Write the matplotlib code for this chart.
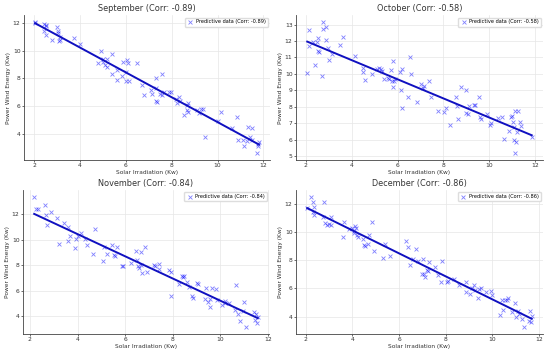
import numpy as np
import matplotlib
matplotlib.use('Agg')
import matplotlib.pyplot as plt


# September
sep_x = [2.05, 2.05, 2.45, 2.5, 2.5, 2.45, 2.5, 2.8, 3.0, 3.05, 3.05, 3.1, 3.15, 3.15, 3.75, 4.0,
         4.8, 4.9, 5.0, 5.1, 5.2, 5.2, 5.0, 5.4, 5.4, 5.6, 5.6, 5.85, 5.9, 6.0, 6.0, 6.05, 6.1, 6.15,
         6.5, 6.7, 6.8, 7.1, 7.15, 7.3, 7.3, 7.3, 7.35, 7.5, 7.6, 7.6, 7.65, 7.9, 7.95, 8.2, 8.25,
         8.3, 8.35, 8.55, 8.65, 8.65, 8.7, 8.7, 9.1, 9.2, 9.3, 9.35, 9.45, 10.0, 10.15, 10.65, 10.85,
         10.9, 11.1, 11.15, 11.3, 11.35, 11.4, 11.5, 11.5, 11.7, 11.75, 11.75, 11.8]
sep_y = [12.1, 12.0, 11.9, 11.85, 11.8, 11.4, 11.1, 10.8, 11.7, 11.4, 11.3, 10.7, 10.8, 11.0, 10.9, 10.5,
         9.1, 10.0, 9.4, 9.0, 8.8, 9.4, 9.2, 9.8, 8.3, 8.6, 7.9, 8.2, 9.2, 8.5, 7.8, 9.3, 9.15, 7.8,
         9.1, 7.5, 6.8, 7.2, 6.9, 8.0, 7.3, 6.4, 6.3, 6.9, 8.3, 6.8, 7.0, 7.0, 7.0, 6.5, 6.2,
         6.7, 6.4, 5.4, 6.1, 5.7, 5.6, 6.2, 5.7, 5.5, 5.8, 5.8, 3.8, 4.9, 5.6, 4.4, 5.2,
         3.6, 3.6, 3.1, 3.5, 4.5, 3.8, 4.4, 3.6, 2.6, 3.3, 3.1, 3.4]

# October
oct_x = [2.06, 2.12, 2.12, 2.32, 2.42, 2.49, 2.52, 2.51, 2.58, 2.70, 2.73, 2.75, 2.86, 2.9, 2.97, 3.02,
         3.15, 3.5, 3.6, 4.16, 4.47, 4.47, 4.57, 4.9, 5.1, 5.19, 5.27, 5.3, 5.4, 5.58, 5.64, 5.73,
         5.76, 5.8, 5.78, 5.84, 5.9, 6.09, 6.17, 6.19, 6.18, 6.46, 6.53, 6.57, 6.86, 7.04, 7.11, 7.14,
         7.38, 7.44, 7.76, 8.02, 8.1, 8.3, 8.56, 8.61, 8.63, 8.75, 8.98, 8.99, 9.07, 9.11, 9.31, 9.39,
         9.55, 9.6, 9.65, 9.9, 10.05, 10.08, 10.37, 10.56, 10.66, 10.85, 10.93, 11.0, 11.04, 11.06,
         11.07, 11.1, 11.14, 11.17, 11.2, 11.27, 11.35, 11.39, 11.85]
oct_y = [10.04, 12.66, 11.67, 11.93, 10.52, 11.95, 12.2, 11.4, 11.36, 9.87, 13.18, 12.7, 12.05, 12.84, 11.6, 10.86,
         11.2, 11.77, 12.25, 11.06, 10.37, 10.11, 9.65, 9.99, 10.31, 10.37, 10.31, 10.15, 9.67, 9.75, 9.69, 10.23,
         9.55, 10.78, 9.19, 9.55, 9.71, 10.09, 9.03, 10.27, 7.94, 8.62, 11.04, 9.99, 8.3, 9.39, 9.13, 9.25,
         9.59, 8.58, 7.71, 7.65, 7.9, 6.86, 8.58, 8.02, 7.27, 9.23, 9.03, 7.61, 7.53, 8.02, 8.12, 8.12,
         8.58, 7.37, 7.25, 7.57, 6.9, 7.0, 7.31, 7.37, 6.01, 6.5, 7.37, 7.45, 7.09, 5.99,
         6.74, 7.71, 5.16, 5.86, 6.46, 7.71, 7.05, 6.8, 6.16]

# November
nov_x = [2.18, 2.25, 2.33, 2.64, 2.68, 2.7, 2.89, 3.13, 3.21, 3.42, 3.6, 3.62, 3.7, 3.88, 3.93, 4.04,
         4.16, 4.33, 4.39, 4.65, 4.75, 5.07, 5.1, 5.24, 5.44, 5.54, 5.58, 5.65, 5.86, 5.93, 6.24, 6.45,
         6.48, 6.53, 6.59, 6.65, 6.66, 6.7, 6.83, 6.92, 7.22, 7.24, 7.4, 7.44, 7.82, 7.91, 7.94, 8.37,
         8.44, 8.47, 8.26, 8.58, 8.68, 8.82, 8.85, 9.02, 9.07, 9.34, 9.38, 9.49, 9.56, 9.63, 9.56, 9.82,
         9.87, 10.08, 10.19, 10.35, 10.21, 10.65, 10.61, 10.74, 10.81, 10.95, 11.01, 11.09, 11.41,
         11.44, 11.51, 11.54, 11.57]
nov_y = [13.37, 12.36, 12.39, 12.7, 11.9, 11.17, 12.16, 11.69, 9.64, 11.3, 10.99, 9.9, 10.29, 9.31, 10.08, 10.26,
         10.55, 10.06, 9.56, 8.87, 10.83, 8.35, 9.41, 8.89, 9.56, 8.79, 8.71, 9.46, 7.96, 7.91, 8.19, 9.1,
         8.4, 7.91, 7.8, 9.02, 8.01, 7.39, 9.46, 7.44, 8.01, 7.91, 8.06, 7.67, 7.65, 7.44, 5.6, 7.16,
         7.1, 7.13, 6.56, 6.72, 6.27, 5.63, 5.47, 6.59, 6.53, 5.37, 6.25, 5.16, 5.37, 6.2, 4.77, 6.14,
         5.29, 4.9, 5.08, 5.03, 5.21, 6.46, 4.49, 4.18, 3.63, 4.46, 5.11, 3.14, 4.33,
         3.73, 4.18, 3.48, 3.99]

# December
dec_x = [2.06, 2.24, 2.3, 2.29, 2.34, 2.33, 2.79, 2.75, 2.82, 2.89, 2.99, 3.08, 3.1, 3.58, 3.63, 3.85,
         4.0, 4.05, 4.08, 4.1, 4.15, 4.19, 4.25, 4.44, 4.49, 4.56, 4.65, 4.72, 4.82, 4.92, 5.32, 5.38,
         5.6, 6.28, 6.38, 6.47, 6.61, 6.73, 6.83, 7.01, 7.0, 7.07, 7.11, 7.19, 7.26, 7.29, 7.54, 7.66,
         7.83, 7.8, 8.05, 8.12, 8.38, 8.58, 8.88, 8.88, 9.05, 9.15, 9.22, 9.26, 9.41, 9.45, 9.52, 9.72,
         9.95, 9.98, 10.34, 10.41, 10.45, 10.55, 10.65, 10.7, 10.84, 10.98, 11.03, 11.1, 11.17, 11.27,
         11.38, 11.58, 11.62, 11.7, 11.67]
dec_y = [11.74, 12.52, 12.12, 11.39, 11.77, 11.23, 12.12, 11.06, 10.64, 10.52, 10.57, 10.47, 11.06, 9.65, 10.71, 10.19,
         10.31, 10.08, 9.96, 10.43, 10.31, 9.82, 9.65, 9.54, 9.11, 9.02, 9.18, 9.82, 10.71, 8.64, 8.13, 9.16,
         8.32, 9.35, 8.92, 7.65, 8.08, 8.83, 7.94, 8.08, 7.0, 7.0, 6.79, 7.31, 7.23, 7.89, 7.54, 6.95,
         7.94, 6.48, 6.44, 6.53, 6.65, 6.25, 6.44, 5.73, 5.59, 6.01, 6.25, 5.9, 5.35, 5.97, 6.01, 5.73,
         5.85, 5.54, 4.08, 5.19, 4.48, 5.19, 5.19, 5.31, 4.32, 5.0, 3.95, 4.37, 4.18, 3.84,
         3.23, 3.67, 4.41, 4.02, 3.6]

months = ['September', 'October', 'November', 'December']
corrs = [-0.89, -0.58, -0.84, -0.86]
xs = [sep_x, oct_x, nov_x, dec_x]
ys = [sep_y, oct_y, nov_y, dec_y]

fig = plt.figure(figsize=(5.5, 3.55), dpi=100)
# axes boxes in pixels (left, top, right, bottom)
boxes = [(24, 15, 270, 160), (296, 15, 543, 160), (23, 190, 269, 334), (296, 190, 543, 334)]
W, H = 550.0, 355.0

for (l, t, r, b), m, c, x, y in zip(boxes, months, corrs, xs, ys):
    ax = fig.add_axes([l / W, 1 - b / H, (r - l) / W, (b - t) / H])
    x = np.array(x)
    y = np.array(y)
    ax.scatter(x, y, marker='x', color='blue', alpha=0.5, s=8, linewidths=0.6,
               label='Predictive data (Corr: %.2f)' % c)
    k, b0 = np.polyfit(x, y, 1)
    xl = np.array([x.min(), x.max()])
    ax.plot(xl, k * xl + b0, color='#1010c0', lw=1.4)
    ax.set_title('%s (Corr: %.2f)' % (m, c), fontsize=5.9, color='#333333', pad=3)
    ax.set_xlabel('Solar Irradiation (Kw)', fontsize=4.2, color='#333333', labelpad=1)
    ax.set_ylabel('Power Wind Energy (Kw)', fontsize=4.2, color='#333333', labelpad=1.5)
    ax.tick_params(labelsize=4.3, length=1.5, width=0.5, pad=1, colors='#333333')
    ax.grid(True, color='#e6e6e6', lw=0.5)
    ax.set_axisbelow(True)
    for s in ['top', 'right']:
        ax.spines[s].set_visible(False)
    for s in ['left', 'bottom']:
        ax.spines[s].set_color('#444444')
        ax.spines[s].set_linewidth(0.6)
    ax.set_xticks([2, 4, 6, 8, 10, 12])
    if m == 'October':
        ax.set_yticks(range(5, 14))
    ax.legend(loc='upper right', fontsize=3.6, frameon=True, framealpha=1,
              edgecolor='#dddddd', handletextpad=0.3, borderpad=0.4, handlelength=1.5)

plt.savefig('out.png', dpi=100)
